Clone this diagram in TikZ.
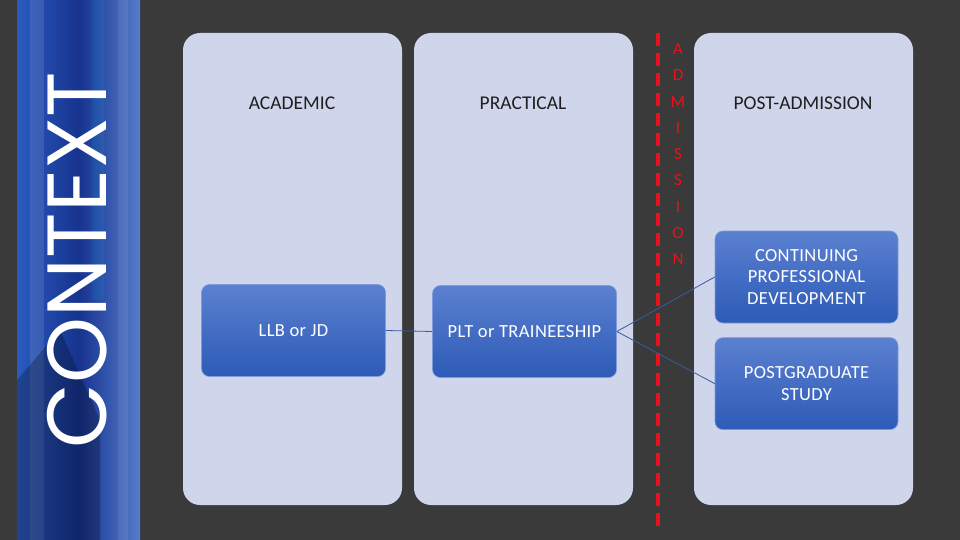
\documentclass[tikz,border=0pt]{standalone}
\usepackage{fontspec}
\setmainfont{Carlito}
\newfontfamily\gothic{Poppins}
\newfontfamily\boxfont[LetterSpace=2]{Carlito}
\usetikzlibrary{positioning}
\definecolor{slate}{HTML}{3A3A3A}
\definecolor{panelfill}{HTML}{CFD5EA}
\definecolor{boxtop}{HTML}{5B80D0}
\definecolor{boxbot}{HTML}{2D5BB7}
\definecolor{boxedge}{HTML}{7F9BD9}
\definecolor{linkblue}{HTML}{3D5A9C}
\definecolor{admred}{HTML}{E8121C}
\definecolor{stripa}{HTML}{2B5BC0}
\definecolor{stripb}{HTML}{16338E}
\tikzset{
  panel/.style={fill=panelfill, rounded corners=17pt},
  stagebox/.style={draw=boxedge, line width=0.6pt, rounded corners=8pt,
    top color=boxtop, bottom color=boxbot, minimum width=184pt,
    minimum height=92pt, text=white, align=center,
    font=\boxfont\fontsize{18.5}{21.5}\selectfont},
  heading/.style={text=black!88, font=\fontsize{19.5}{22}\selectfont},
  admletter/.style={text=admred, font=\fontsize{17}{17}\selectfont},
  link/.style={draw=linkblue, line width=0.8pt}
}
\begin{document}
\begin{tikzpicture}[x=1pt,y=-1pt]
\useasboundingbox (0,0) rectangle (960,540);
\fill[slate] (0,0) rectangle (960,540);
% blue strip on the left
\shade[left color=stripa, right color=stripa!80!white, middle color=stripb] (17,0) rectangle (140,540);
\fill[white, opacity=0.10] (30,0) rectangle (44,540);
\fill[cyan, opacity=0.12] (92,0) rectangle (104,300);
\fill[white, opacity=0.08] (118,0) rectangle (128,540);
\fill[black, opacity=0.25] (17,540) -- (17,380) -- (60,330) -- (100,420) -- (100,540) -- cycle;
\node[rotate=90, text=white, font=\gothic\fontsize{84}{84}\selectfont] (context) at (77,260) {CONTEXT};
% panels
\fill[panel] (183,33) rectangle (402,505);
\fill[panel] (414,33) rectangle (633,505);
\fill[panel] (694,33) rectangle (913,505);
\node[heading] (academic) at (292,103) {ACADEMIC};
\node[heading] (practical) at (523,103) {PRACTICAL};
\node[heading] (postadm) at (803,103) {POST-ADMISSION};
% admission line
\coordinate (cuttop) at (658,33);
\coordinate (cutbot) at (658,533);
\draw[admred, line width=4pt, dash pattern=on 13pt off 7pt] (cuttop) -- (cutbot);
\foreach \ch [count=\i] in {A,D,M,I,S,S,I,O,N}
  \node[admletter] (adm\i) at (678,{22.7+26.3*\i}) {\ch};
% stages
\node[stagebox] (llb) at (293.5,330.5) {LLB or JD};
\node[stagebox] (plt) at (524.5,331.5) {PLT or TRAINEESHIP};
\node[stagebox, minimum width=183pt] (cpd) at (806.5,277) {CONTINUING\\PROFESSIONAL\\DEVELOPMENT};
\node[stagebox, minimum width=183pt, below=14pt of cpd] (psg) {POSTGRADUATE\\STUDY};
\draw[link] (llb.east) -- (plt.west);
\draw[link] (plt.east) -- (cpd.west);
\draw[link] (plt.east) -- (psg.west);
\end{tikzpicture}
\end{document}
